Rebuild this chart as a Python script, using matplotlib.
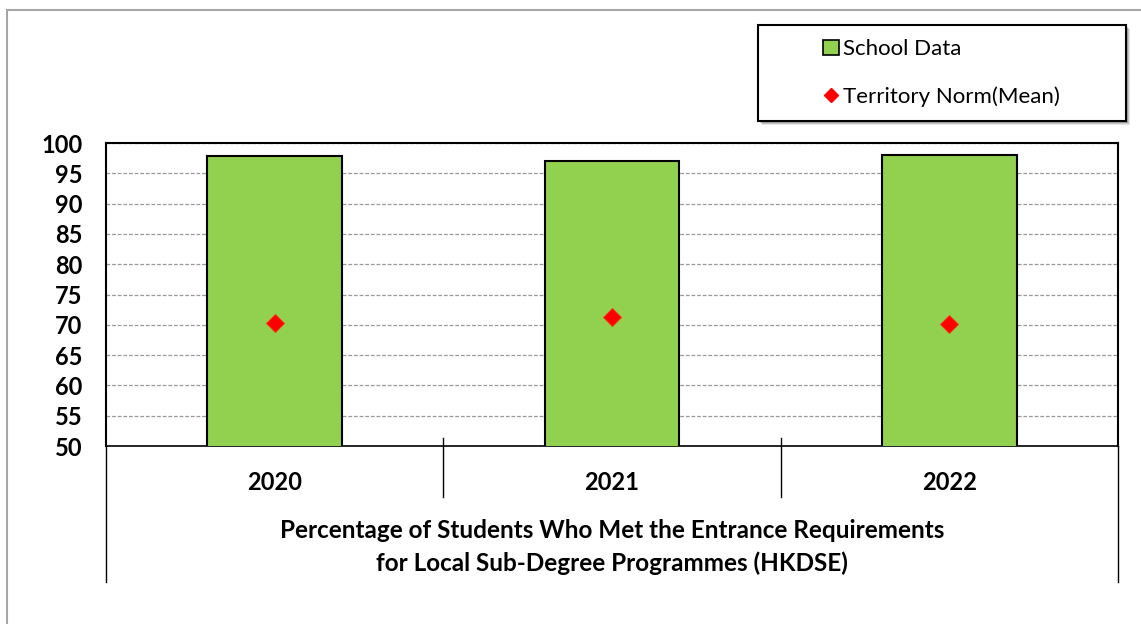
import numpy as np
import matplotlib.pyplot as plt
from matplotlib.patches import Rectangle, Patch
from matplotlib.lines import Line2D

plt.rcParams['font.family'] = ['Lato', 'DejaVu Sans']

years = ['2020', '2021', '2022']
school_data = [97.9, 97.0, 98.1]
territory_norm = [70.3, 71.3, 70.1]
y_ticks = [50, 55, 60, 65, 70, 75, 80, 85, 90, 95, 100]

W, H = 1141, 624
fig = plt.figure(figsize=(W / 100, H / 100), dpi=100)

# light grey outer frame, running off the right and bottom edges
fig.patches.append(Rectangle((7 / W, -0.1), 1.2, 1 - 10 / H + 0.1, transform=fig.transFigure,
                             fill=False, edgecolor='#a6a6a6', linewidth=1.5))

ax = fig.add_axes([106 / W, 1 - 446 / H, (1118 - 106) / W, (446 - 143) / H])
x = np.arange(len(years))

ax.bar(x, school_data, width=0.4, bottom=0, color='#92d050', edgecolor='black',
       linewidth=1.5, zorder=3)
ax.plot(x, territory_norm, linestyle='none', marker='D', markersize=9,
        color='#ff0000', markeredgecolor='#ff3300', markeredgewidth=0.6, zorder=4)

ax.set_xlim(-0.5, 2.5)
ax.set_ylim(50, 100)
ax.set_yticks(y_ticks)
ax.set_yticklabels([str(v) for v in y_ticks], fontsize=17, fontweight='bold')
ax.tick_params(axis='y', length=0, pad=17)
ax.set_xticks(x)
ax.set_xticklabels(years, fontsize=17, fontweight='bold')
ax.tick_params(axis='x', length=0, pad=18)
ax.yaxis.grid(True, linestyle=(0, (3, 1.5)), color='#999999', linewidth=0.9, zorder=0)
for s in ax.spines.values():
    s.set_linewidth(1.5)
    s.set_color('black')
ax.spines['bottom'].set_linewidth(1.2)

# category separators and the outer verticals of the axis box
tr = ax.get_xaxis_transform()
for xs in [0.5, 1.5]:
    ax.plot([xs, xs], [0.026, -0.168], color='black', linewidth=1.0, transform=tr, clip_on=False)
for xs in [-0.5, 2.5]:
    ax.plot([xs, xs], [0, -0.449], color='black', linewidth=1.0, transform=tr, clip_on=False)

fig.text(612 / W, 1 - 531 / H, 'Percentage of Students Who Met the Entrance Requirements',
         ha='center', va='center', fontsize=17.5, fontweight='bold')
fig.text(612 / W, 1 - 563 / H, 'for Local Sub-Degree Programmes (HKDSE)',
         ha='center', va='center', fontsize=17.5, fontweight='bold')

# legend box with a soft drop shadow
bx, by, bw, bh = 758 / W, 1 - 121 / H, 368 / W, 96 / H
for i, a in enumerate([0.10, 0.14, 0.18]):
    off = (4 - i) / W, (4 - i) / H
    fig.patches.append(Rectangle((bx + off[0], by - off[1]), bw, bh, transform=fig.transFigure,
                                 facecolor='black', alpha=a, edgecolor='none', zorder=1))
fig.patches.append(Rectangle((bx, by), bw, bh, transform=fig.transFigure,
                             facecolor='white', edgecolor='black', linewidth=1.5, zorder=2))

handles = [Patch(facecolor='#92d050', edgecolor='black', linewidth=1.2),
           Line2D([], [], linestyle='none', marker='D', markersize=7, color='#ff0000')]
fig.legend(handles, ['School Data', 'Territory Norm(Mean)'], loc='center left',
           bbox_to_anchor=(803 / W, 1 - 73 / H), frameon=False, fontsize=16,
           handlelength=0.7, handleheight=0.7, handletextpad=0.2, labelspacing=1.2)

fig.savefig('out.png', dpi=100)
